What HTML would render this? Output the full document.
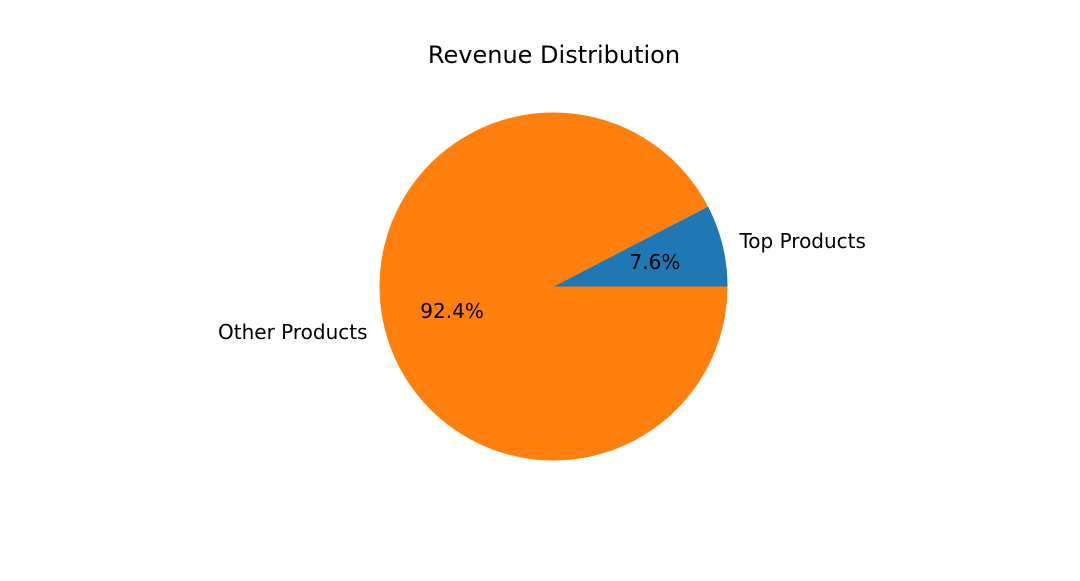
<!DOCTYPE html>
<html><head><meta charset="utf-8"><style>
html,body{margin:0;padding:0;background:#fff;}
svg text{font-family:"DejaVu Sans","Liberation Sans",sans-serif;fill:#000;}
</style></head><body>
<svg id="chart" width="1080" height="576" viewBox="0 0 1080 576" xmlns="http://www.w3.org/2000/svg">
<rect width="1080" height="576" fill="#fff"/>
<text x="554" y="55" font-size="24" text-anchor="middle" dominant-baseline="central">Revenue Distribution</text>
<g id="slices"></g>
<g id="labels"></g>
</svg>
<script>
const categories = ["Top Products", "Other Products"];
const values = [7.6, 92.4];
const pctLabels = ["7.6%", "92.4%"];
const colors = ["#1f77b4", "#ff7f0e"];
const cx = 553.5, cy = 286.5, r = 174;
const NS = "http://www.w3.org/2000/svg";
const total = values.reduce((a,b)=>a+b,0);
const slices = document.getElementById('slices');
const labels = document.getElementById('labels');
function pt(deg, rad){ const a = deg*Math.PI/180; return [cx + rad*Math.cos(a), cy - rad*Math.sin(a)]; }
let start = 0;
values.forEach((v,i)=>{
  const sweep = v/total*360;
  const end = start + sweep;
  const [x1,y1] = pt(start, r), [x2,y2] = pt(end, r);
  const large = sweep > 180 ? 1 : 0;
  const p = document.createElementNS(NS,'path');
  p.setAttribute('d', `M${cx},${cy} L${x1},${y1} A${r},${r} 0 ${large} 0 ${x2},${y2} Z`);
  p.setAttribute('fill', colors[i]);
  
  
  slices.appendChild(p);
  const mid = start + sweep/2;
  const [lx,ly] = pt(mid, r*1.1);
  const t = document.createElementNS(NS,'text');
  t.setAttribute('x', lx); t.setAttribute('y', ly);
  t.setAttribute('font-size', '20');
  t.setAttribute('dominant-baseline', 'central');
  t.setAttribute('text-anchor', Math.cos(mid*Math.PI/180) >= 0 ? 'start' : 'end');
  t.textContent = categories[i];
  
  
  labels.appendChild(t);
  const [px,py] = pt(mid, r*0.6);
  const pl = document.createElementNS(NS,'text');
  pl.setAttribute('x', px); pl.setAttribute('y', py);
  pl.setAttribute('font-size', '20');
  pl.setAttribute('dominant-baseline', 'central');
  pl.setAttribute('text-anchor', 'middle');
  pl.textContent = pctLabels[i];
  
  
  labels.appendChild(pl);
  start = end;
});
</script>
</body></html>
